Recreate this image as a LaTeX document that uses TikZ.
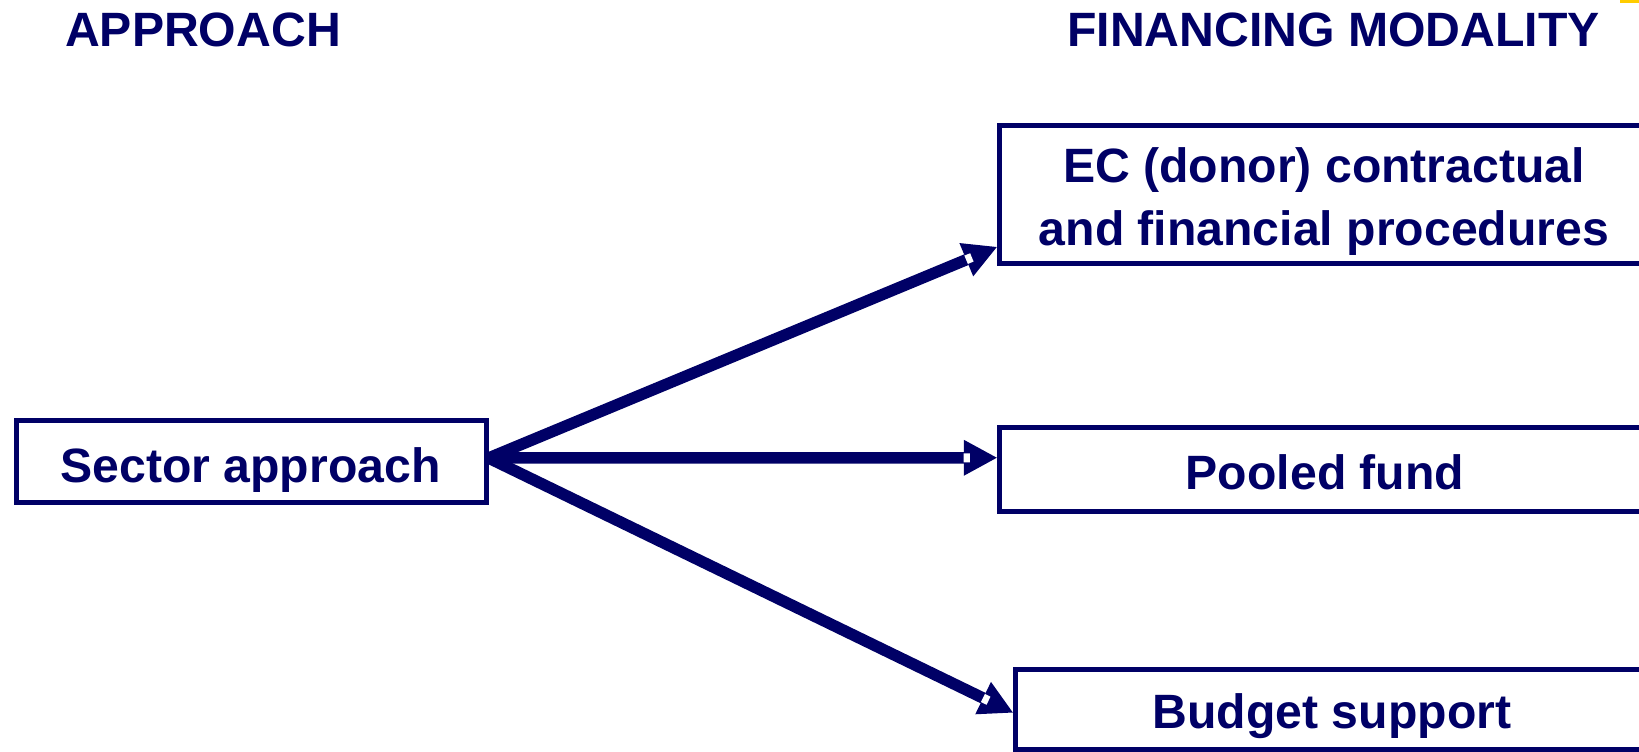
\documentclass[tikz,border=0pt]{standalone}
\usepackage{fontspec}
\setmainfont{Liberation Sans}
\usetikzlibrary{arrows.meta,calc}
\definecolor{navy}{RGB}{0,0,102}
\definecolor{gold}{RGB}{255,204,0}
\begin{document}
\begin{tikzpicture}[x=0.01cm,y=-0.01cm,
  every node/.style={text=navy,font=\fontsize{13.7pt}{16pt}\selectfont\bfseries},
  box/.style={draw=navy,line width=0.05cm,inner sep=0pt,fill=white},
  label/.style={anchor=base,inner sep=0pt},
  link/.style={draw=navy,line width=0.115cm,
    -{Triangle[length=0.33cm,width=0.36cm,line width=0pt]}},
  notch/.style={draw=white,line width=0.09cm}]
\useasboundingbox (0,0) rectangle (1639,751);
\clip (0,0) rectangle (1639,751);
\fill[white] (0,0) rectangle (1639,751);
\fill[gold] (1620,0) rectangle (1639,3);

% column headings
\node[label] (hApproach) at (203,46) {APPROACH};
\node[label] (hModality) at (1333.5,46) {FINANCING MODALITY};

% boxes
\node[box,minimum width=4.69cm,minimum height=0.82cm] (sec) at (251.5,461.5) {};
\node[box,minimum width=6.50cm,minimum height=1.38cm] (ec) at (1324.5,194.5) {};
\node[box,minimum width=6.50cm,minimum height=0.835cm] (pool) at (1324.5,469.25) {};
\node[box,minimum width=6.34cm,minimum height=0.80cm] (bud) at (1332.5,709.5) {};

% box texts
\node[label] (tSec) at (250.5,482) {Sector approach};
\node[label] (tEc1) at (1324,182) {EC (donor) contractual};
\node[label] (tEc2) at (1324,245) {and financial procedures};
\node[label] (tPool) at (1325,489) {Pooled fund};
\node[label] (tBud) at (1332,728) {Budget support};

% connector ends
\coordinate (src) at ([yshift=0.035cm]sec.east);
\coordinate (toEc) at ([yshift=0.19cm]ec.south west);
\coordinate (toPool) at ([yshift=0.115cm]pool.west);
\coordinate (toBud) at ([yshift=-0.03cm]bud.west);

\foreach \t in {toEc,toPool,toBud}{
  \draw[link] (src) -- (\t);
  \draw[notch] ($(\t)!0.332cm!(src)$) -- ($(\t)!0.27cm!(src)$);
}
\end{tikzpicture}
\end{document}
